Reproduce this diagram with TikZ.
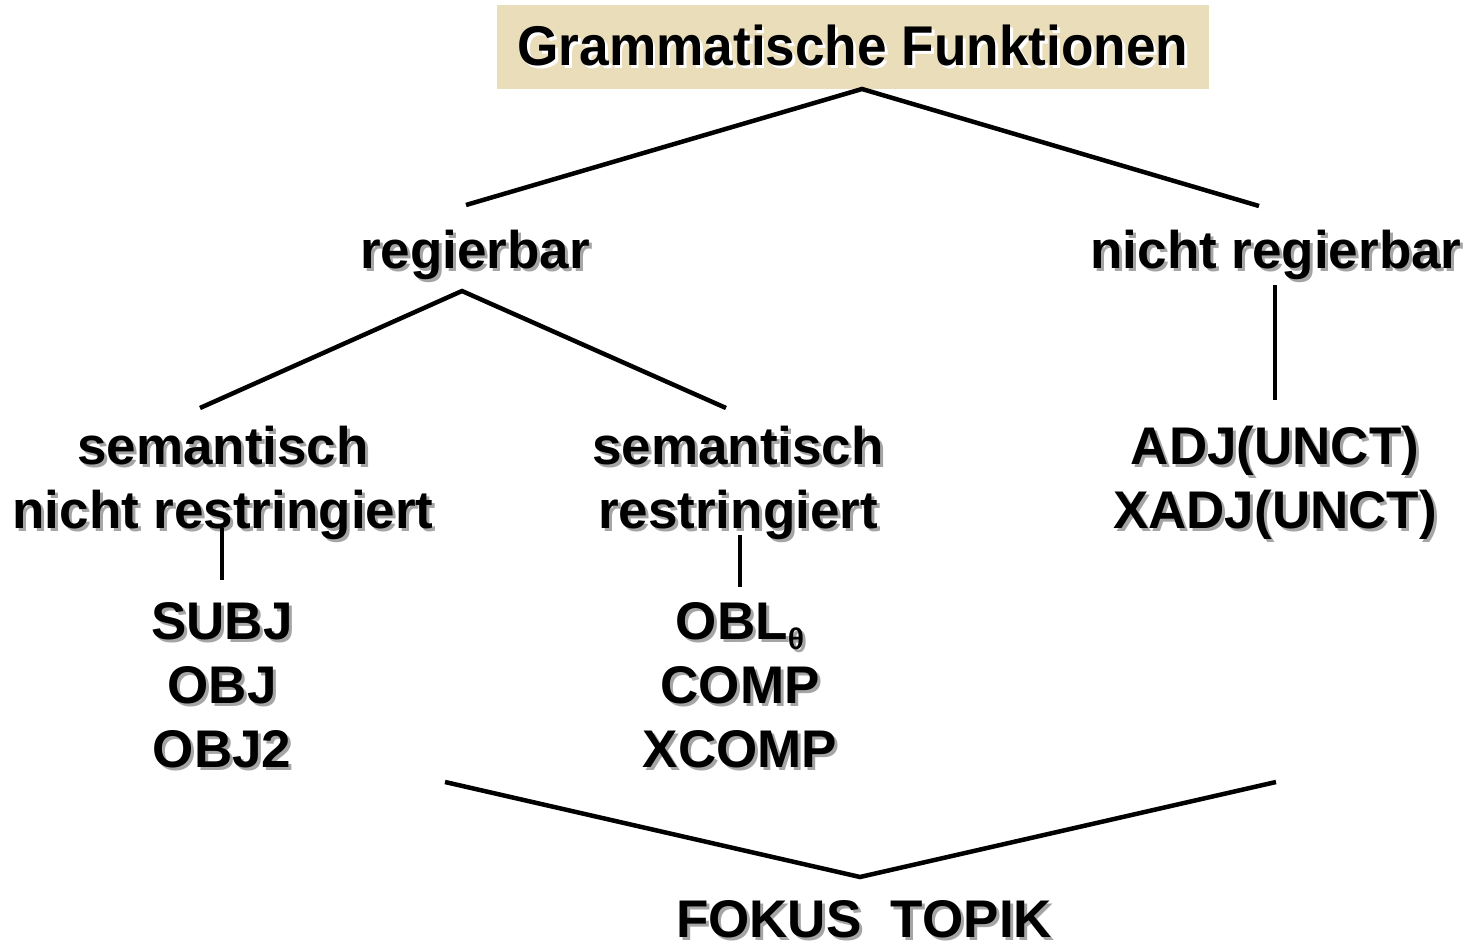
\documentclass[tikz,border=0pt]{standalone}
\usepackage{fontspec}
\setmainfont{Liberation Sans}
\usepackage{xcolor}
\usetikzlibrary{positioning}
\definecolor{parchment}{RGB}{234,221,186}
\definecolor{shadowgray}{RGB}{165,165,165}
\newcommand{\shl}[2][shadowgray]{\makebox[0pt][l]{\kern3pt\raisebox{-3pt}{\textcolor{#1}{#2}}}#2}
\tikzstyle{term}=[anchor=base, align=center, inner sep=0pt, text=black,
        font=\fontsize{53}{64}\selectfont\bfseries]
\tikzstyle{titlebox}=[rectangle, fill=parchment, minimum width=712pt, minimum height=84pt,
        inner sep=0pt, font=\fontsize{56}{60}\selectfont\bfseries]
\tikzstyle{branch}=[-, line width=4.5pt]

\begin{document}
\begin{tikzpicture}[x=1pt, y=-1pt]
    \useasboundingbox (0,0) rectangle (1468,942);
    \node (Title) [titlebox] at (853,47)
        {\scalebox{0.95}[1]{\shl[white]{Grammatische Funktionen}}};
    \node (Reg) [term] at (475,268) {\shl{regierbar}};
    \node (NReg) [term] at (1276,268) {\shl{nicht regierbar}};
    % multi-line nodes sit on their last baseline
    \node (SemNR) [term] at (223,528) {\shl{semantisch}\\\shl{nicht restringiert}};
    \node (SemR) [term] at (738,528) {\shl{semantisch}\\\shl{restringiert}};
    \node (Adj) [term] at (1275,528) {\shl{ADJ(UNCT)}\\\shl{XADJ(UNCT)}};
    \node (Subj) [term] at (222,767) {\shl{SUBJ}\\\shl{OBJ}\\\shl{OBJ2}};
    \node (Obl) [term] at (740,767)
        {\shl{OBL\raisebox{-10pt}{\fontsize{30}{30}\selectfont θ}}\\\shl{COMP}\\\shl{XCOMP}};
    \node (Disc) [term] at (864,937) {\shl{FOKUS\ \ TOPIK}};
    % branch ends
    \coordinate (TitleFoot) at (862,89);
    \coordinate (RegUp) at (466,205);
    \coordinate (NRegUp) at (1259,206);
    \coordinate (RegFoot) at (462,291);
    \coordinate (SemNRUp) at (200,408);
    \coordinate (SemRUp) at (726,408);
    \coordinate (NRegFoot) at (1275,285);
    \coordinate (AdjUp) at (1275,400);
    \coordinate (SemNRFoot) at (222,528);
    \coordinate (SubjUp) at (222,580);
    \coordinate (SemRFoot) at (740,535);
    \coordinate (OblUp) at (740,587);
    \coordinate (SubjFoot) at (445,782);
    \coordinate (AdjFoot) at (1276,782);
    \coordinate (DiscUp) at (860,877);
    \draw[branch] (RegUp) -- (TitleFoot) -- (NRegUp);
    \draw[branch] (SemNRUp) -- (RegFoot) -- (SemRUp);
    \draw[branch] (NRegFoot) -- (AdjUp);
    \draw[branch] (SemNRFoot) -- (SubjUp);
    \draw[branch] (SemRFoot) -- (OblUp);
    \draw[branch] (SubjFoot) -- (DiscUp) -- (AdjFoot);
\end{tikzpicture}
\end{document}
